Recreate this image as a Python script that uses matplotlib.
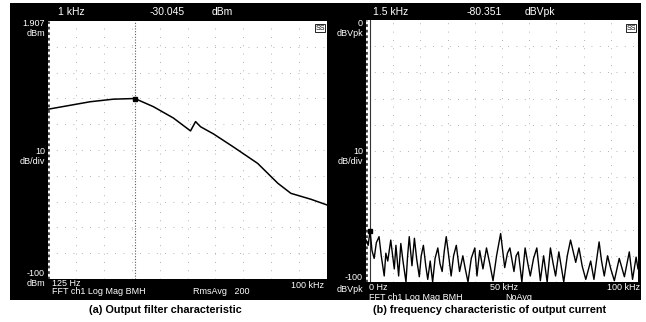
import matplotlib.pyplot as plt
from matplotlib.patches import Rectangle

plt.rcParams['font.family'] = ['Liberation Sans', 'DejaVu Sans']

# (a) output filter characteristic, 125 Hz .. 100 kHz, log scale
filt_freq = [125, 343, 597, 1000, 1560, 2520, 3800, 4290, 4840, 6610,
             10700, 19000, 30800, 42100, 68100, 100000]
filt_dbm = [-34.2, -31.3, -30.3, -30.045, -33.2, -37.6, -42.6, -39.0, -41.0, -43.8,
            -48.9, -55.2, -62.9, -66.8, -69.1, -71.3]
filt_marker = (1000, -30.045)

# (b) output current spectrum, 0 .. 100 kHz, linear scale
cur_khz = [0, 0.8, 1.5, 2.2, 3.0, 3.8, 4.8, 5.6, 6.7, 7.3, 8.0, 9.1, 9.8, 10.4, 11.0,
           12.0, 12.8, 13.6, 14.7, 15.3, 15.9, 16.9, 17.8, 18.6, 19.6, 20.3, 21.1,
           22.0, 22.7, 23.6, 24.5, 25.4, 26.4, 27.2, 28.0, 28.8, 29.5, 30.4, 31.3,
           32.2, 33.2, 34.4, 35.6, 36.5, 37.5, 38.7, 40.0, 40.8, 41.8, 43.0, 44.3,
           45.5, 46.7, 48.0, 49.5, 51.0, 52.0, 52.9, 54.4, 55.2, 56.0, 57.3, 58.5,
           59.5, 60.4, 61.6, 62.8, 64.1, 65.3, 66.6, 67.8, 68.8, 69.7, 70.9, 72.7,
           74.0, 75.2, 77.1, 78.3, 79.5, 80.8, 82.6, 83.8, 85.7, 86.6, 87.6, 88.8,
           90.0, 91.3, 93.1, 95.0, 96.8, 98.0, 99.3, 100]
cur_db = [-84, -86, -80.351, -88, -91, -85, -82.7, -90, -97.7, -89, -92, -84, -90, -95, -86,
          -97.7, -85.3, -92, -100, -90, -82.7, -93.8, -83.3, -91, -98, -90, -86,
          -94, -99, -92, -100, -91, -87, -93, -96, -88, -82.7, -90, -97.7,
          -90, -86, -96, -90, -95, -100, -91, -87, -97.7, -88, -95, -87,
          -93, -99.5, -90, -81.5, -94.5, -89, -87, -96, -90, -88.5, -100, -87,
          -93, -97.7, -91, -87, -99.5, -90, -100, -87, -93, -97.7, -88.5, -100,
          -90, -84, -92.5, -87, -94, -99, -92, -99, -84.7, -92, -97.7, -90,
          -95, -99.5, -91, -98, -88.5, -99, -90.5, -95]
cur_marker = (1.5, -80.351)

W, H = 646, 322
fig = plt.figure(figsize=(W / 100, H / 100), dpi=100)
fig.patch.set_facecolor('white')


def rect(x0, y0, x1, y1):
    return [x0 / W, 1 - y1 / H, (x1 - x0) / W, (y1 - y0) / H]


def txt(x, y, s, **kw):
    kw.setdefault('color', 'white')
    kw.setdefault('fontsize', 6.5)
    kw.setdefault('va', 'center')
    fig.text(x / W, 1 - y / H, s, **kw)


# black instrument frames (behind the axes)
for x0, x1 in [(10, 330), (329, 641)]:
    fig.add_artist(Rectangle((x0 / W, 1 - 300 / H), (x1 - x0) / W, 297 / H,
                             transform=fig.transFigure, facecolor='black',
                             edgecolor='none', zorder=-10))


def style(ax):
    ax.set_facecolor('white')
    for s in ax.spines.values():
        s.set_visible(False)
    ax.set_xticks([])
    ax.set_yticks([])
    # scope graticule rows, faint dots
    lo, hi = ax.get_ylim()
    for i in range(1, 10):
        ax.axhline(lo + (hi - lo) * i / 10, color='0.6', lw=0.6, ls=(0, (1, 9)))
    # dotted left frame edge
    ax.axvline(ax.get_xlim()[0], color='0.25', lw=2, ls=(0, (1, 1)))


# panel (a)
ax1 = fig.add_axes(rect(48, 21, 327, 279))
ax1.set_xscale('log')
ax1.set_xlim(125, 100000)
ax1.set_ylim(-100, 0)
style(ax1)
for i in range(1, 10):
    ax1.axvline(10 ** (2.097 + 2.903 * i / 10), color='0.6', lw=0.6, ls=(0, (1, 9)))
ax1.axvline(filt_marker[0], color='0.35', lw=0.8, ls=(0, (1, 1.5)))
ax1.plot(filt_freq, filt_dbm, color='black', lw=1.1)
ax1.plot(*filt_marker, marker='s', ms=3, color='black')

# panel (b)
ax2 = fig.add_axes(rect(366, 20, 638, 282))
ax2.set_xlim(0, 100)
ax2.set_ylim(-100, 0)
style(ax2)
for i in range(1, 10):
    ax2.axvline(i * 10, color='0.6', lw=0.6, ls=(0, (1, 9)))
ax2.axvline(cur_marker[0], color='0.2', lw=0.8)
ax2.plot(cur_khz, cur_db, color='black', lw=1.0)
ax2.plot(*cur_marker, marker='s', ms=3, color='black')

# header bars
txt(58, 12, '1 kHz', fontsize=7.5)
txt(150, 12, '-30.045', fontsize=7.5)
txt(212, 12, 'dBm', fontsize=7.5)
txt(373, 12, '1.5 kHz', fontsize=7.5)
txt(467, 12, '-80.351', fontsize=7.5)
txt(525, 12, 'dBVpk', fontsize=7.5)

# left scale labels
txt(45, 24, '1.907', ha='right')
txt(45, 33, 'dBm', ha='right')
txt(45, 151, '10', ha='right')
txt(45, 161, 'dB/div', ha='right')
txt(45, 274, '-100', ha='right')
txt(45, 283, 'dBm', ha='right')

txt(363, 24, '0', ha='right')
txt(363, 33, 'dBVpk', ha='right')
txt(363, 151, '10', ha='right')
txt(363, 161, 'dB/div', ha='right')
txt(363, 278, '-100', ha='right')
txt(363, 289, 'dBVpk', ha='right')

# footer bars
txt(52, 284, '125 Hz')
txt(52, 292, 'FFT ch1 Log Mag BMH')
txt(324, 286, '100 kHz', ha='right')
txt(193, 292, 'RmsAvg   200')
txt(369, 288, '0 Hz')
txt(490, 288, '50 kHz')
txt(640, 288, '100 kHz', ha='right')
txt(369, 297, 'FFT ch1 Log Mag BMH')
txt(505, 297, 'NoAvg')

# small status icons
for x in (320, 631):
    txt(x, 28, 'SS', fontsize=5, ha='center', color='black',
        bbox=dict(facecolor='white', edgecolor='black', lw=0.6, pad=0.5))

# captions
txt(165, 310, '(a) Output filter characteristic', color='black', fontsize=7.8,
    fontweight='bold', ha='center')
txt(490, 310, '(b) frequency characteristic of output current', color='black',
    fontsize=7.8, fontweight='bold', ha='center')

fig.savefig('out.png', dpi=100, facecolor='white')
